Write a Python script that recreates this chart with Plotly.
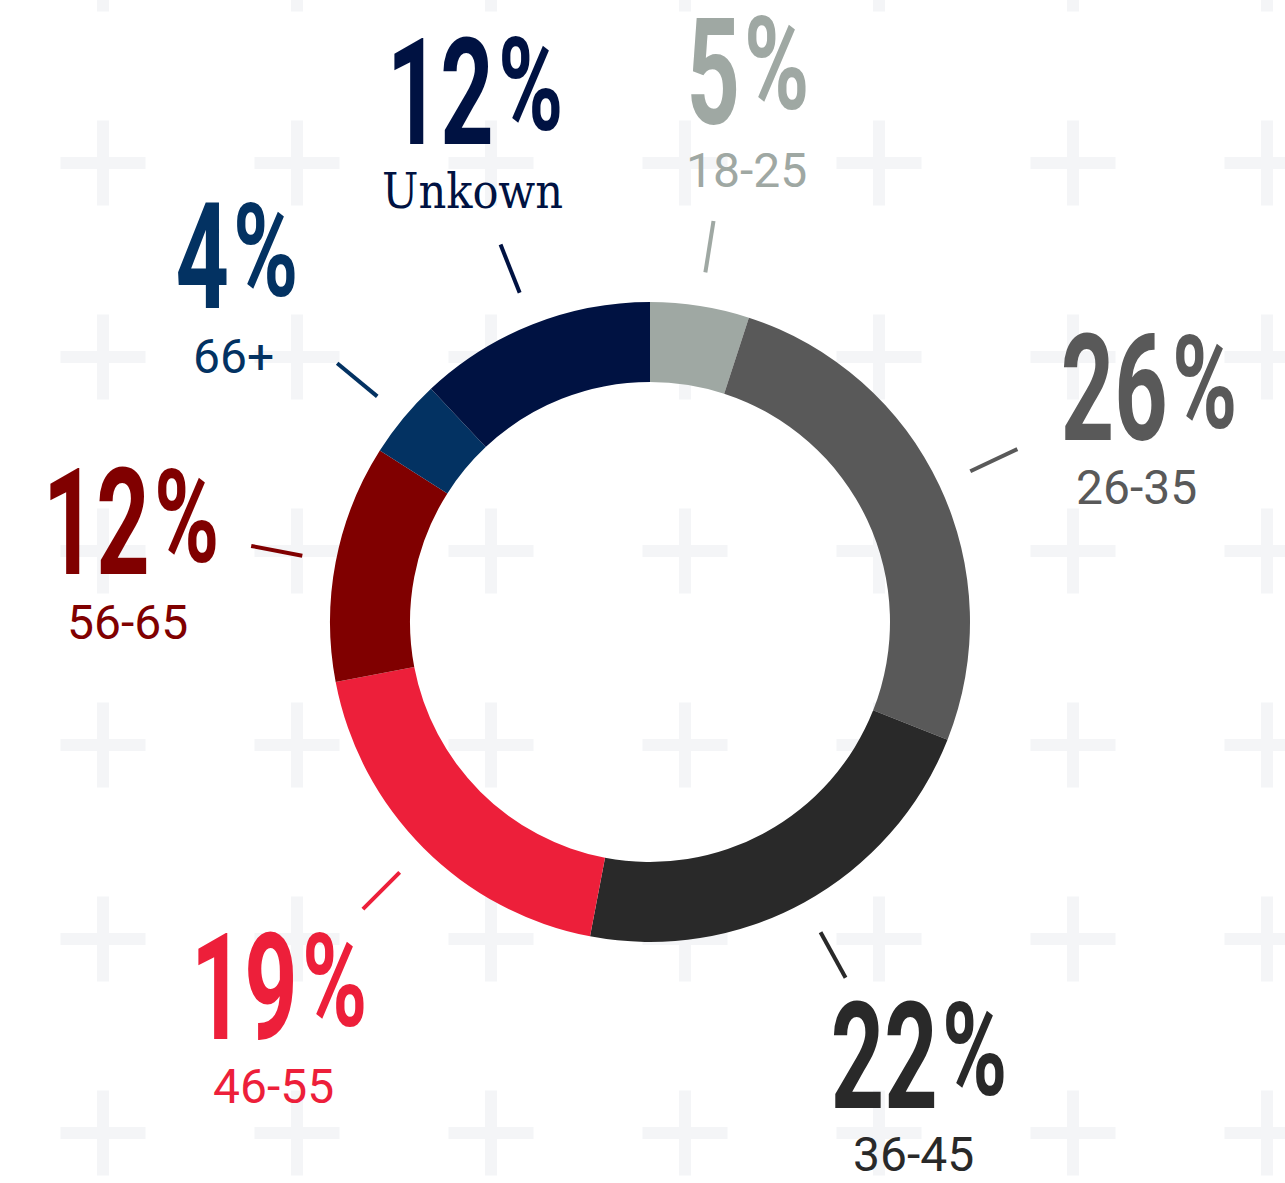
import math
import plotly.graph_objects as go

# ---- data ----
age_groups = ["18-25", "26-35", "36-45", "46-55", "56-65", "66+", "Unkown"]
shares = [5, 26, 22, 19, 12, 4, 12]
slice_colors = ["#9fa8a3", "#595959", "#292929", "#ed1f3a", "#800000", "#033262", "#001242"]

# ---- layout constants (pixels) ----
W, H = 1285, 1183
CX, CY, R_OUT = 650, 622, 320
HOLE = 0.75
LEADER_R0, LEADER_R1 = 354, 406

# label layout: (gap x between number and %, number centre y, % centre y, label centre x, label centre y)
label_layout = {
    "18-25": (742, 73, 64, 746, 170),
    "26-35": (1170, 389, 383, 1136, 487),
    "36-45": (940, 1057, 1050, 913, 1154),
    "46-55": (300, 988, 981, 273, 1086),
    "56-65": (152, 523, 517, 127, 622),
    "66+": (231, 257, 251, 233, 356),
    "Unkown": (496, 93, 85, 472, 191),
}

NUM_FONT = "Roboto, Arial, sans-serif"
NUM_SIZE = 148
PCT_SIZE = 130
AGE_FONT = "Roboto, Arial, sans-serif"
AGE_SIZE = 48
SLAB_FONT = "DejaVu Serif Condensed, DejaVu Serif, serif"

fig = go.Figure()

fig.add_trace(go.Pie(
    labels=age_groups,
    values=shares,
    marker=dict(colors=slice_colors, line=dict(width=0)),
    hole=HOLE,
    sort=False,
    direction="clockwise",
    rotation=0,
    textinfo="none",
    hoverinfo="skip",
    showlegend=False,
    domain=dict(x=[(CX - R_OUT) / W, (CX + R_OUT) / W],
                y=[(H - CY - R_OUT) / H, (H - CY + R_OUT) / H]),
))

shapes = []
# background plus pattern
PLUS_COLOR = "#f4f5f7"
step = 194
half_len, half_w = 42.5, 6
for row in range(-1, 7):
    py = 163 + step * row
    for col in range(0, 7):
        px = 103 + step * col
        shapes.append(dict(type="rect", xref="x", yref="y", layer="below",
                           x0=px - half_len, x1=px + half_len, y0=py - half_w, y1=py + half_w,
                           fillcolor=PLUS_COLOR, line=dict(width=0)))
        shapes.append(dict(type="rect", xref="x", yref="y", layer="below",
                           x0=px - half_w, x1=px + half_w, y0=py - half_len, y1=py + half_len,
                           fillcolor=PLUS_COLOR, line=dict(width=0)))

# leader lines at slice mid angles, computed from the data
total = sum(shares)
cum = 0
annotations = []
for name, val, col in zip(age_groups, shares, slice_colors):
    mid = (cum + val / 2) / total * 2 * math.pi
    cum += val
    sx, sy = math.sin(mid), -math.cos(mid)
    shapes.append(dict(type="line", xref="x", yref="y", layer="above",
                       x0=CX + LEADER_R0 * sx, y0=CY + LEADER_R0 * sy,
                       x1=CX + LEADER_R1 * sx, y1=CY + LEADER_R1 * sy,
                       line=dict(color=col, width=4)))
    gx, ny, py_, lx, ly = label_layout[name]
    annotations.append(dict(x=gx - 1, y=ny, xref="x", yref="y", text=f"<b>{val}</b>",
                            showarrow=False, xanchor="right", yanchor="middle",
                            font=dict(family=NUM_FONT, size=NUM_SIZE, color=col), borderpad=0))
    annotations.append(dict(x=gx + 1, y=py_, xref="x", yref="y", text="<b>%</b>",
                            showarrow=False, xanchor="left", yanchor="middle",
                            font=dict(family=NUM_FONT, size=PCT_SIZE, color=col), borderpad=0))
    fam = SLAB_FONT if name == "Unkown" else AGE_FONT
    annotations.append(dict(x=lx, y=ly, xref="x", yref="y", text=name,
                            showarrow=False, xanchor="center", yanchor="middle",
                            font=dict(family=fam, size=AGE_SIZE, color=col), borderpad=0))

fig.update_layout(
    width=W, height=H,
    margin=dict(l=0, r=0, t=0, b=0),
    paper_bgcolor="white", plot_bgcolor="white",
    xaxis=dict(range=[0, W], visible=False, domain=[0, 1], fixedrange=True),
    yaxis=dict(range=[H, 0], visible=False, domain=[0, 1], fixedrange=True),
    shapes=shapes,
    annotations=annotations,
)

# condense the big percentage figures horizontally (text stays real text)
post = """
document.body.style.margin='0';
document.querySelectorAll('g.annotation').forEach(function(g){
  var i = parseInt(g.getAttribute('data-index'));
  var k = i % 3;
  if (k === 2) return;
  var t = g.querySelector('text.annotation-text');
  if (!t) return;
  t.style.transformBox = 'fill-box';
  t.style.transformOrigin = (k === 0) ? 'right center' : 'left center';
  t.style.transform = 'scaleX(' + (k === 0 ? 0.63 : 0.68) + ')';
});
"""

fig.write_html("out.html", config={"displayModeBar": False}, post_script=post)
